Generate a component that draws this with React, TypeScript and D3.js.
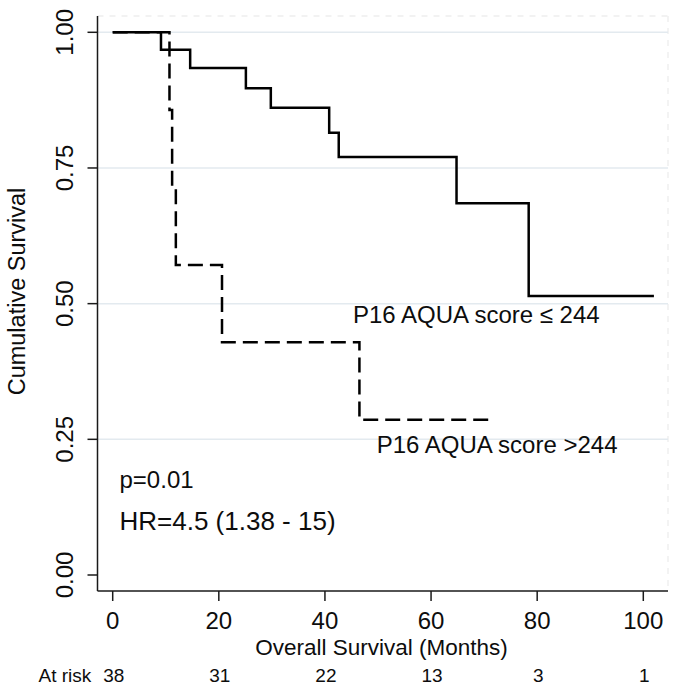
import React from "react";
import * as d3 from "d3";

// ---- data ----
const lowTimes = [0, 9.1, 14.6, 25.1, 29.8, 40.8, 42.6, 64.8, 78.4];
const lowSurv = [1, 0.968, 0.934, 0.897, 0.861, 0.815, 0.77, 0.685, 0.514];
const lowEnd = 102;

const highTimes = [0, 10.7, 11.2, 11.9, 20.6, 46.5];
const highSurv = [1, 0.857, 0.714, 0.571, 0.429, 0.286];
const highEnd = 71;

const xTicks = [0, 20, 40, 60, 80, 100];
const yTicks = [0, 0.25, 0.5, 0.75, 1];
const yTickLabels = ["0.00", "0.25", "0.50", "0.75", "1.00"];
const atRisk = [38, 31, 22, 13, 3, 1];

const lowLabel = "P16 AQUA score \u2264 244";
const highLabel = "P16 AQUA score >244";
const pText = "p=0.01";
const hrText = "HR=4.5 (1.38 - 15)";
const xTitle = "Overall Survival (Months)";
const yTitle = "Cumulative Survival";
const atRiskTitle = "At risk";

const W = 677;
const H = 689;
const frame = { left: 97.5, right: 668, top: 16, bottom: 591 };

const x = d3.scaleLinear().domain([0, 100]).range([112.7, 643.3]);
const y = d3.scaleLinear().domain([0, 1]).range([575, 32.3]);

function stepPath(times: number[], surv: number[], end: number) {
  const pts: [number, number][] = times.map((t, i) => [t, surv[i]]);
  pts.push([end, surv[surv.length - 1]]);
  const line = d3
    .line<[number, number]>()
    .x((d) => x(d[0]))
    .y((d) => y(d[1]))
    .curve(d3.curveStepAfter);
  return line(pts) || "";
}

const FONT = "'Liberation Sans', Arial, sans-serif";

export default function App() {
  const axisColor = "#1a1a1a";
  const gridColor = "#e3eaef";
  const textColor = "#0d0d0d";
  return (
    <svg
      width={W}
      height={H}
      style={{ position: "absolute", left: 0, top: 0, background: "#fff" }}
      fontFamily={FONT}
    >
      <rect x={0} y={0} width={W} height={H} fill="#fff" />
      {/* plot region outer frame (faint) */}
      <line
        x1={frame.left}
        x2={frame.right}
        y1={frame.top}
        y2={frame.top}
        stroke="#e6e6e6"
        strokeWidth={1.2}
        strokeDasharray="6,6"
      />
      <line
        x1={frame.right}
        x2={frame.right}
        y1={frame.top}
        y2={frame.bottom}
        stroke="#ececec"
        strokeWidth={1.2}
        strokeDasharray="6,6"
      />
      {/* gridlines */}
      {yTicks
        .filter((v) => v > 0)
        .map((v) => (
          <line
            key={"g" + v}
            x1={frame.left}
            x2={frame.right}
            y1={y(v)}
            y2={y(v)}
            stroke={gridColor}
            strokeWidth={1.5}
          />
        ))}
      {/* axes */}
      <line
        x1={frame.left}
        x2={frame.left}
        y1={frame.top}
        y2={frame.bottom}
        stroke={axisColor}
        strokeWidth={1.5}
      />
      <line
        x1={frame.left}
        x2={frame.right}
        y1={frame.bottom}
        y2={frame.bottom}
        stroke={axisColor}
        strokeWidth={1.5}
      />
      {yTicks.map((v, i) => (
        <g key={"yt" + v}>
          <line
            x1={frame.left - 10}
            x2={frame.left}
            y1={y(v)}
            y2={y(v)}
            stroke={axisColor}
            strokeWidth={1.5}
          />
          <text
            transform={`translate(73,${y(v)}) rotate(-90)`}
            textAnchor="middle"
            fontSize={24}
            fill={textColor}
          >
            {yTickLabels[i]}
          </text>
        </g>
      ))}
      {xTicks.map((t, i) => (
        <g key={"xt" + t}>
          <line
            x1={x(t)}
            x2={x(t)}
            y1={frame.bottom}
            y2={frame.bottom + 10}
            stroke={axisColor}
            strokeWidth={1.5}
          />
          <text x={x(t)} y={628.5} textAnchor="middle" fontSize={24} fill={textColor}>
            {t}
          </text>
          <text x={x(t) + 1} y={681.5} textAnchor="middle" fontSize={19} fill={textColor}>
            {atRisk[i]}
          </text>
        </g>
      ))}
      <text x={381.5} y={655} textAnchor="middle" fontSize={22.5} fill={textColor}>
        {xTitle}
      </text>
      <text
        transform={`translate(25,291.5) rotate(-90)`}
        textAnchor="middle"
        fontSize={23.5}
        fill={textColor}
      >
        {yTitle}
      </text>
      <text x={38.5} y={681.5} fontSize={19} fill={textColor}>
        {atRiskTitle}
      </text>
      {/* curves */}
      <path
        d={stepPath(highTimes, highSurv, highEnd)}
        fill="none"
        stroke="#000"
        strokeWidth={2.5}
        strokeDasharray="15,7"
      />
      <path
        d={stepPath(lowTimes, lowSurv, lowEnd)}
        fill="none"
        stroke="#000"
        strokeWidth={2.5}
      />
      {/* annotations */}
      <text x={353} y={323} fontSize={24} fill={textColor}>
        {lowLabel}
      </text>
      <text x={376.7} y={452.7} fontSize={24} fill={textColor}>
        {highLabel}
      </text>
      <text x={119.5} y={488} fontSize={24} fill={textColor}>
        {pText}
      </text>
      <text x={119.5} y={530} fontSize={26} fill={textColor}>
        {hrText}
      </text>
    </svg>
  );
}
